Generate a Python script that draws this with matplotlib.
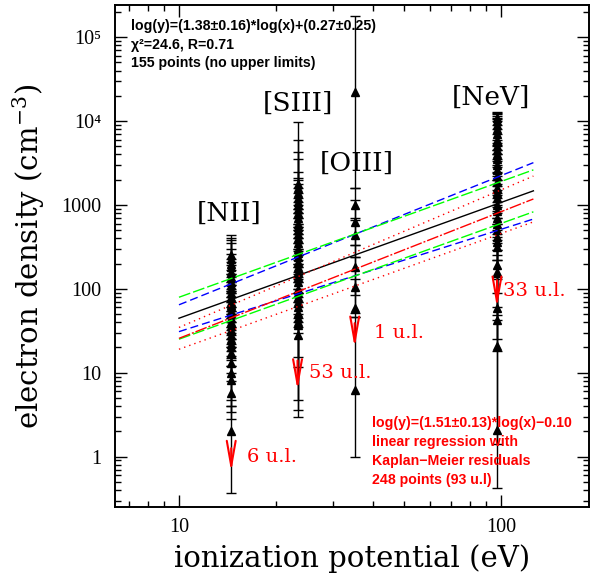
import numpy as np
import matplotlib.pyplot as plt
from matplotlib.ticker import FixedLocator, FuncFormatter, NullFormatter, LogLocator

# ionization potentials (eV) of the four lines
ion_names = ['[NII]', '[SIII]', '[OIII]', '[NeV]']
ion_ip = [14.53, 23.34, 35.12, 97.12]

# densities: value, lower end, upper end of the error bar
nii_y = [250, 230, 200, 180, 160, 140, 120, 110, 100, 90, 80, 70, 65, 60, 55,
         50, 45, 40, 36, 32, 28, 25, 22, 20, 17, 13, 10, 8.2, 5.7, 2.0]
nii_lo = [150, 120, 110, 95, 90, 80, 70, 60, 55, 50, 45, 40, 35, 32, 30,
          28, 25, 22, 20, 18, 15, 14, 12, 10, 8, 4.7, 4.0, 3.4, 2.8, 0.37]
nii_hi = [437, 400, 380, 350, 300, 260, 230, 210, 190, 170, 150, 140, 120, 110, 100,
          95, 90, 80, 70, 60, 55, 50, 45, 40, 35, 25, 20, 16, 12, 4.0]

siii_y = [1800, 1600, 1400, 1200, 1100, 1000, 900, 800, 700, 600, 550, 500, 450,
          400, 350, 300, 270, 240, 210, 180, 160, 140, 120, 100, 90, 80, 70, 60,
          51, 37, 28, 45, 40]
siii_lo = [900, 800, 700, 600, 550, 500, 450, 400, 350, 300, 280, 250, 220,
           200, 180, 150, 130, 120, 100, 90, 80, 70, 60, 50, 45, 40, 35, 30,
           15.5, 11.7, 4.7, 3.6, 3.0]
siii_hi = [9800, 5900, 4300, 3500, 2100, 2500, 2000, 1800, 1600, 1400, 1200, 1100, 1000,
           900, 800, 700, 600, 550, 500, 450, 400, 350, 300, 250, 200, 180, 160, 140,
           120, 90, 70, 100, 90]

oiii_y = [22000, 1000, 630, 440, 180, 105, 59, 6.2]
oiii_lo = [1580, 660, 330, 240, 85, 52, 46, 1.0]
oiii_hi = [180000, 1580, 1150, 700, 330, 240, 130, 46]

nev_y = [11000, 10000, 9000, 8000, 7000, 6000, 5000, 4500, 4000, 3500, 3000, 2600,
         2200, 1900, 1600, 1400, 1200, 1000, 850, 700, 600, 500, 420, 360, 318,
         192, 158, 59, 43, 21, 2.1]
nev_lo = [5500, 5000, 4500, 4000, 3500, 3000, 2500, 2200, 2000, 1800, 1500, 1300,
          1100, 950, 800, 700, 600, 500, 420, 350, 290, 250, 220, 140, 90,
          49, 43, 25, 18, 1.4, 0.42]
nev_hi = [13000, 12500, 12000, 11500, 11000, 10500, 10000, 9000, 8000, 7000, 6000, 5200,
          4500, 4000, 3300, 2800, 2400, 2000, 1700, 1400, 1200, 1000, 850, 700, 600,
          450, 380, 290, 220, 130, 60]

# upper limits: count, arrow top and tip
ul_count = [6, 53, 1, 33]
ul_top = [1.26, 14, 39, 127]
ul_tip = [0.66, 6.2, 20, 60]

# fits
fit_slope, fit_slope_err, fit_icpt, fit_icpt_err = 1.38, 0.16, 0.27, 0.25
km_slope, km_slope_err, km_icpt = 1.51, 0.13, -0.10
fit_x = np.array([10.0, 126.0])

plt.rcParams['font.family'] = 'DejaVu Serif'
plt.rcParams['mathtext.fontset'] = 'dejavuserif'

fig = plt.figure(figsize=(5.9, 5.77), dpi=100)
ax = fig.add_axes([115 / 590, 70 / 577, 474 / 590, 502 / 577])
ax.set_xscale('log')
ax.set_yscale('log')
ax.set_xlim(6.33, 187.5)
ax.set_ylim(0.251, 2.42e5)

columns = [(nii_y, nii_lo, nii_hi), (siii_y, siii_lo, siii_hi),
           (oiii_y, oiii_lo, oiii_hi), (nev_y, nev_lo, nev_hi)]
for ip, (yv, lo, hi) in zip(ion_ip, columns):
    yv = np.array(yv)
    err = [yv - np.array(lo), np.array(hi) - yv]
    ax.errorbar(np.full(len(yv), ip), yv, yerr=err, fmt='^', color='black',
                ms=6, elinewidth=1, capsize=3.5, capthick=1, zorder=2)

# fit lines
lx = np.log10(fit_x)
def fline(s, c):
    return 10 ** (s * lx + c)

ax.plot(fit_x, fline(fit_slope, fit_icpt), color='black', lw=1, zorder=3)
ax.plot(fit_x, fline(fit_slope + fit_slope_err, fit_icpt), color='blue', lw=1,
        dashes=(5.8, 2.9), zorder=3)
ax.plot(fit_x, fline(fit_slope - fit_slope_err, fit_icpt), color='blue', lw=1,
        dashes=(5.8, 2.9), zorder=3)
ax.plot(fit_x, fline(fit_slope, fit_icpt + fit_icpt_err), color='#00ff00', lw=1,
        dashes=(8.6, 2.2), zorder=3)
ax.plot(fit_x, fline(fit_slope, fit_icpt - fit_icpt_err), color='#00ff00', lw=1,
        dashes=(8.6, 2.2), zorder=3)
ax.plot(fit_x, fline(km_slope, km_icpt), color='red', lw=1,
        dashes=(8.6, 1.4, 1.4, 1.4), zorder=3)
ax.plot(fit_x, fline(km_slope + km_slope_err, km_icpt), color='red', lw=1,
        dashes=(1, 2.9), zorder=3)
ax.plot(fit_x, fline(km_slope - km_slope_err, km_icpt), color='red', lw=1,
        dashes=(1, 2.9), zorder=3)

# upper limit arrows
label_dx = [11, 8, 14, 4]
for ip, n, top, tip, dx in zip(ion_ip, ul_count, ul_top, ul_tip, label_dx):
    ax.annotate('', xy=(ip, tip), xytext=(ip, top),
                arrowprops=dict(arrowstyle='->,head_length=1.8,head_width=0.32',
                                color='red', lw=1.5, shrinkA=0, shrinkB=0),
                zorder=4)
    ax.annotate('%d u.l.' % n, xy=(ip, np.sqrt(top * tip)), xytext=(dx, 2),
                textcoords='offset points', color='red', fontsize=14,
                ha='left', va='center', zorder=5)

# ion names
name_x = [14.3, 23.4, 35.6, 93.3]
name_y = [803, 16400, 3160, 19400]
for nm, x, y in zip(ion_names, name_x, name_y):
    ax.text(x, y, nm, fontsize=19, ha='center', va='center')

ax.text(0.034, 0.972,
        'log(y)=(1.38\u00b10.16)*log(x)+(0.27\u00b10.25)\n\u03c7\u00b2=24.6, R=0.71\n155 points (no upper limits)',
        transform=ax.transAxes, fontsize=10.2, fontweight='bold',
        family=['Liberation Sans', 'DejaVu Sans'], va='top', ha='left', linespacing=1.42)
ax.text(0.542, 0.181,
        'log(y)=(1.51\u00b10.13)*log(x)\u22120.10\nlinear regression with\nKaplan\u2212Meier residuals\n248 points (93 u.l)',
        transform=ax.transAxes, fontsize=10.2, fontweight='bold', color='red',
        family=['Liberation Sans', 'DejaVu Sans'], va='top', ha='left', linespacing=1.45)

# ticks
ax.xaxis.set_major_locator(FixedLocator([10, 100]))
ax.xaxis.set_minor_locator(LogLocator(base=10, subs=np.arange(2, 10)))
ax.yaxis.set_major_locator(FixedLocator([1, 10, 100, 1000, 1e4, 1e5]))
ax.yaxis.set_minor_locator(LogLocator(base=10, subs=np.arange(2, 10), numticks=20))
ax.xaxis.set_minor_formatter(NullFormatter())
ax.yaxis.set_minor_formatter(NullFormatter())
ax.xaxis.set_major_formatter(FuncFormatter(lambda v, p: '%d' % v))
ylabs = {1: '1', 10: '10', 100: '100', 1000: '1000', 10000: '10\u2074', 100000: '10\u2075'}
ax.yaxis.set_major_formatter(FuncFormatter(lambda v, p: ylabs.get(int(round(v)), '')))
ax.tick_params(which='both', direction='in', top=True, right=True, width=1)
ax.tick_params(which='major', length=8.6)
ax.tick_params(which='minor', length=4.3)
ax.tick_params(axis='y', pad=10)
ax.tick_params(axis='x', pad=8)
for lab in ax.get_xticklabels() + ax.get_yticklabels():
    lab.set_family(['Liberation Serif', 'DejaVu Serif'])
    lab.set_fontsize(14.5)
for sp in ax.spines.values():
    sp.set_linewidth(1.4)

ax.set_xlabel('ionization potential (eV)', fontsize=21, labelpad=5)
ax.set_ylabel('electron density (cm$^{-3}$)', fontsize=21, labelpad=10)

fig.savefig('out.png', dpi=100)
